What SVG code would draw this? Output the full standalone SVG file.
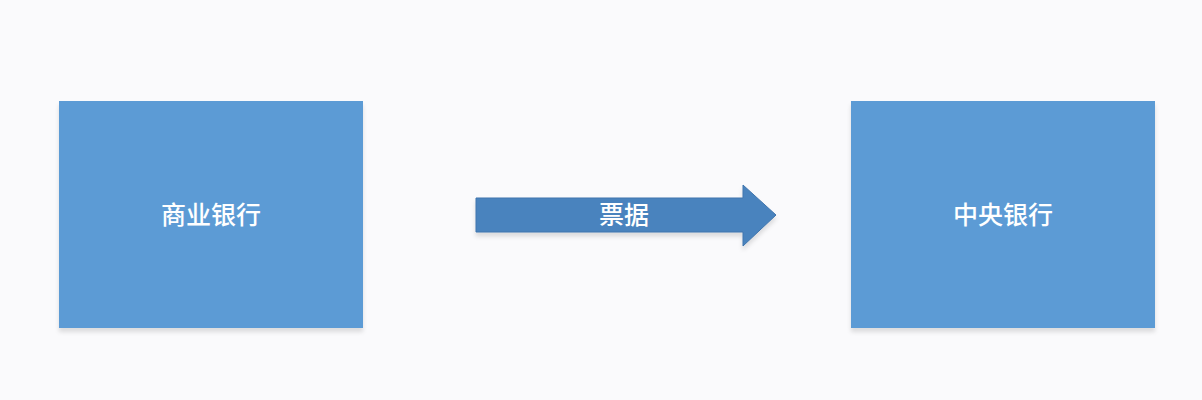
<svg xmlns="http://www.w3.org/2000/svg" width="1202" height="400" viewBox="0 0 1202 400">
<defs>
<style>
.box{fill:#5B9BD5;}
.lbl{font-family:"Noto Sans CJK SC","Noto Sans",sans-serif;font-size:25px;font-weight:500;fill:#FFFFFF;text-anchor:middle;dominant-baseline:central;}
.arr{fill:#4A83BE;stroke:#3F75AD;stroke-width:1;}
</style>
<filter id="sh" x="-10%" y="-10%" width="120%" height="130%">
<feDropShadow dx="0" dy="4" stdDeviation="2" flood-color="#000" flood-opacity="0.12"/>
</filter>
</defs>
<rect width="1202" height="400" fill="#FAFAFC"/>
<g id="node-commercial">
<rect class="box" x="59" y="101" width="304" height="227" filter="url(#sh)"/>
<text class="lbl" x="211" y="213">商业银行</text>
</g>
<g id="node-central">
<rect class="box" x="851" y="101" width="304" height="227" filter="url(#sh)"/>
<text class="lbl" x="1003" y="213">中央银行</text>
</g>
<g id="connectors">
<polygon class="arr" points="476,198 743,198 743,185 776,215 743,246 743,232 476,232" filter="url(#sh)"/>
<text class="lbl" x="624" y="213">票据</text>
</g>
</svg>
